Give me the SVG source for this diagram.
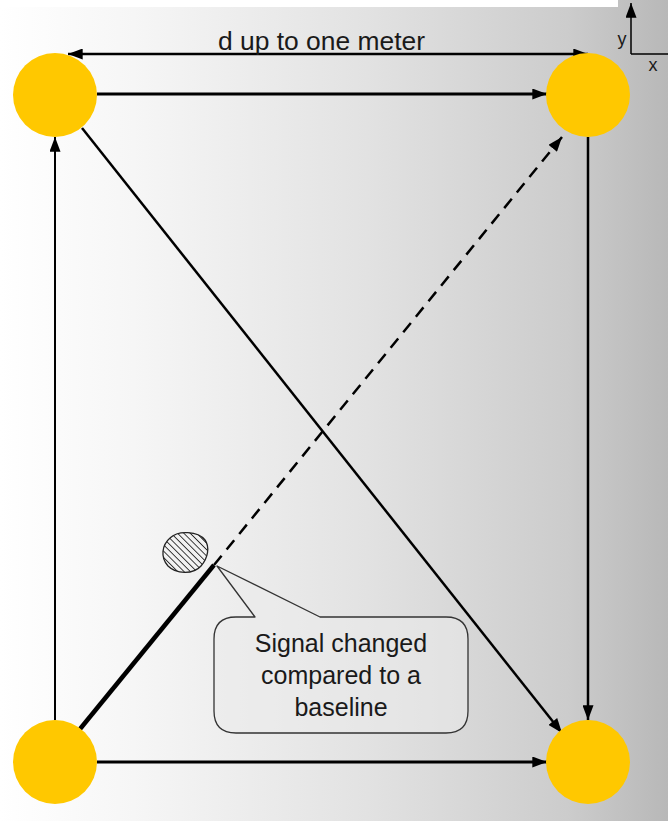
<svg xmlns="http://www.w3.org/2000/svg" width="668" height="821" viewBox="0 0 668 821">
  <style>
    .node { fill: #ffc800; }
    .conn { stroke: #000; fill: none; }
    .lbl { font-family: "Liberation Sans", Arial, sans-serif; fill: #1a1a1a; }
  </style>
  <defs>
    <linearGradient id="bg" gradientUnits="userSpaceOnUse" x1="0" y1="0" x2="668" y2="0">
      <stop offset="0" stop-color="#ffffff"/>
      <stop offset="0.2" stop-color="#f6f6f6"/>
      <stop offset="0.55" stop-color="#e2e2e2"/>
      <stop offset="0.85" stop-color="#cccccc"/>
      <stop offset="1" stop-color="#b8b8b8"/>
    </linearGradient>
    <marker id="ah" viewBox="0 0 16 12" refX="16" refY="6" markerWidth="15" markerHeight="11" markerUnits="userSpaceOnUse" orient="auto-start-reverse">
      <path d="M0,0 L16,6 L0,12 z" fill="#000"/>
    </marker>
    <pattern id="hatch" patternUnits="userSpaceOnUse" width="4.5" height="4.5" patternTransform="rotate(-45)">
      <rect width="4.5" height="4.5" fill="#f2f2f2"/>
      <line x1="0" y1="0" x2="0" y2="4.5" stroke="#111" stroke-width="1.6"/>
    </pattern>
  </defs>

  <g id="background">
    <rect x="0" y="0" width="668" height="821" fill="#ffffff"/>
    <rect x="0" y="7" width="668" height="814" fill="url(#bg)"/>
    <rect x="618" y="0" width="50" height="8" fill="url(#bg)"/>
  </g>

  <g id="axes">
    <line class="conn" x1="631" y1="54" x2="631" y2="3" stroke-width="1.5" marker-end="url(#ah)"/>
    <line class="conn" x1="631" y1="54" x2="668" y2="54" stroke-width="1.5"/>
    <text class="lbl" x="622" y="45" font-size="18" text-anchor="middle">y</text>
    <text class="lbl" x="653" y="71" font-size="18" text-anchor="middle">x</text>
  </g>

  <g id="connectors">
    <line class="conn" x1="68" y1="54" x2="588" y2="54" stroke-width="2.5" marker-start="url(#ah)" marker-end="url(#ah)"/>
    <line class="conn" x1="97" y1="94" x2="547" y2="94" stroke-width="3" marker-end="url(#ah)"/>
    <line class="conn" x1="55" y1="720" x2="55" y2="137" stroke-width="2" marker-end="url(#ah)"/>
    <line class="conn" x1="588" y1="137" x2="588" y2="720" stroke-width="2.5" marker-end="url(#ah)"/>
    <line class="conn" x1="97" y1="762" x2="547" y2="762" stroke-width="3" marker-end="url(#ah)"/>
    <line class="conn" x1="82" y1="128" x2="562" y2="733" stroke-width="2.5" marker-end="url(#ah)"/>
    <line class="conn" x1="80" y1="729" x2="214" y2="565" stroke-width="4.5"/>
    <line class="conn" x1="214" y1="565" x2="562" y2="137" stroke-width="2.5" stroke-dasharray="12 8" marker-end="url(#ah)"/>
  </g>

  <g id="label-d">
    <text class="lbl" x="321.5" y="50" font-size="25" text-anchor="middle" textLength="207" lengthAdjust="spacingAndGlyphs">d up to one meter</text>
  </g>

  <g id="node-top-left"><ellipse class="node" cx="55" cy="95" rx="42" ry="42"/></g>
  <g id="node-top-right"><ellipse class="node" cx="588" cy="95" rx="42" ry="42"/></g>
  <g id="node-bottom-left"><ellipse class="node" cx="55" cy="762" rx="42" ry="42"/></g>
  <g id="node-bottom-right"><ellipse class="node" cx="588" cy="762" rx="42" ry="42"/></g>

  <g id="obstacle">
    <path d="M170,538 C178,530 198,531 205,540 C210,547 208,558 201,566 C193,575 176,574 168,566 C160,557 162,545 170,538 Z" fill="url(#hatch)" stroke="#222" stroke-width="1.3"/>
  </g>

  <g id="callout">
    <path d="M217,566 L320,617 L446,617 Q468,617 468,639 L468,711 Q468,733 446,733 L236,733 Q214,733 214,711 L214,639 Q214,617 236,617 L255,617 Z" fill="#ebebeb" fill-opacity="0.55" stroke="#333" stroke-width="1.3" stroke-linejoin="round"/>
    <text class="lbl" x="341" y="652" font-size="25" text-anchor="middle">Signal changed</text>
    <text class="lbl" x="341" y="684" font-size="25" text-anchor="middle">compared to a</text>
    <text class="lbl" x="341" y="716" font-size="25" text-anchor="middle">baseline</text>
  </g>
</svg>
